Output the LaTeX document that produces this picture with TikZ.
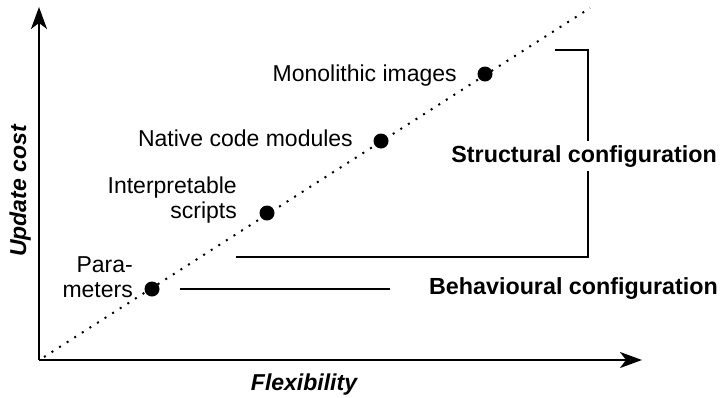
\documentclass[tikz,border=0pt]{standalone}
\usepackage{fontspec}
\setmainfont{Liberation Sans}
\usetikzlibrary{arrows.meta}
\begin{document}
\begin{tikzpicture}[x=1pt,y=-1pt,
  axis/.style={line width=2pt,-{Stealth[length=22pt,width=16pt,inset=6pt]}},
  bracket/.style={line width=1.8pt},
  trend/.style={line width=2pt,dash pattern=on 2pt off 7pt},
  dot/.style={circle,fill=black,inner sep=0pt,minimum size=15pt},
  lbl/.style={inner sep=0pt,font=\fontsize{23}{25}\selectfont},
  cfg/.style={inner sep=0pt,font=\fontsize{23.3}{26}\selectfont\bfseries},
  axlbl/.style={inner sep=0pt,font=\fontsize{23}{25}\selectfont\bfseries\itshape}]
\useasboundingbox (0,0) rectangle (722,397);
% axes
\coordinate (o) at (39,360);
\coordinate (ytip) at (39,7);
\coordinate (xtip) at (642,360);
\draw[axis] (o) -- (ytip);
\draw[axis] (o) -- (xtip);
% trend line
\coordinate (ts) at (44,357);
\coordinate (te) at (590,8);
\draw[trend] (ts) -- (te);
% dots
\node[dot] (p1) at (152,289) {};
\node[dot] (p2) at (267,213) {};
\node[dot] (p3) at (381,141) {};
\node[dot] (p4) at (485,74) {};
% labels
\node[lbl,anchor=base east] (l4) at (457,81) {Monolithic images};
\node[lbl,anchor=base east] (l3) at (353,146) {Native code modules};
\node[lbl,anchor=east,align=right] (l2) at (237,200) {Interpretable\\scripts};
\node[lbl,anchor=east,align=right] (l1) at (133,277) {Para-\\meters};
% structural bracket
\coordinate (sa) at (555,50);
\coordinate (sb) at (588,50);
\coordinate (sc) at (588,257);
\coordinate (sd) at (236,257);
\draw[bracket] (sa) -- (sb) -- (sc) -- (sd);
\node[cfg,fill=white,inner ysep=4pt,anchor=base east] (sl) at (717,162) {Structural configuration};
% behavioural
\coordinate (ba) at (180,289);
\coordinate (bb) at (390,289);
\draw[bracket] (ba) -- (bb);
\node[cfg,anchor=base east] (bl) at (718,294) {Behavioural configuration};
% axis labels
\node[axlbl,anchor=base] (xl) at (304,390) {Flexibility};
\node[axlbl,anchor=base,rotate=90] (yl) at (26,191) {Update cost};
\end{tikzpicture}
\end{document}
